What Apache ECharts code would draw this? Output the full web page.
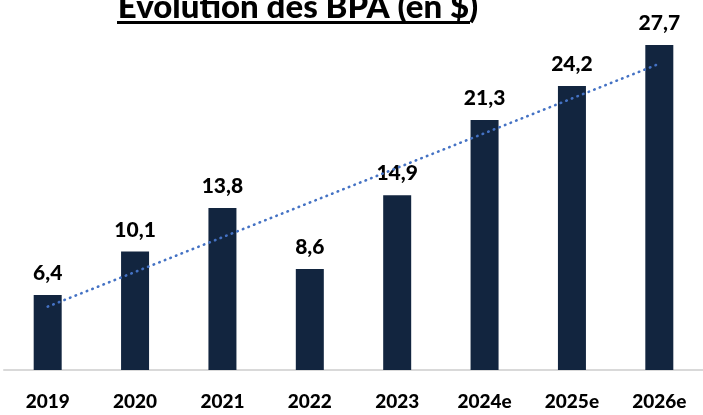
<!DOCTYPE html>
<html>
<head>
<meta charset="utf-8">
<script src="https://cdn.jsdelivr.net/npm/echarts@6/dist/echarts.min.js"></script>
<style>
  html, body { margin: 0; padding: 0; background: #fff; }
  #chart { width: 703px; height: 415px; }
</style>
</head>
<body>
<div id="chart"></div>
<script>
// données
const years = ['2019', '2020', '2021', '2022', '2023', '2024e', '2025e', '2026e']
const bpa = [6.4, 10.1, 13.8, 8.6, 14.9, 21.3, 24.2, 27.7]
// tendance linéaire : valeurs aux extrémités (1re et dernière année)
const trendEnds = [5.4, 26.1]

const chart = echarts.init(document.getElementById('chart'))
const font = 'Lato, "Open Sans", sans-serif'

const option = {
  animation: false,
  title: {
    text: 'Évolution des BPA (en $)',
    left: 293,
    textAlign: 'center',
    top: -14,
    textStyle: { fontFamily: font, fontWeight: 900, fontSize: 33, color: '#000' }
  },
  graphic: [
    // soulignement du titre
    { type: 'rect', shape: { x: 117, y: 21, width: 353, height: 3 }, style: { fill: '#000' } }
  ],
  grid: { left: 4, right: -3, top: 18, bottom: 45 },
  xAxis: {
    type: 'category',
    data: years,
    axisTick: { show: false },
    axisLine: { lineStyle: { color: '#d9d9d9', width: 2 } },
    axisLabel: { margin: 22, color: '#000', fontFamily: font, fontWeight: 900, fontSize: 19 }
  },
  yAxis: {
    type: 'value',
    min: 0,
    max: 30,
    show: false,
    splitLine: { show: false }
  },
  series: [
    {
      type: 'bar',
      data: bpa,
      barWidth: 28,
      itemStyle: { color: '#12253f' },
      label: {
        show: true,
        position: 'top',
        distance: 11,
        color: '#000',
        fontFamily: font,
        fontWeight: 900,
        fontSize: 21,
        formatter: p => String(p.value).replace('.', ',')
      }
    },
    {
      type: 'line',
      data: [[0, trendEnds[0]], [years.length - 1, trendEnds[1]]],
      symbol: 'none',
      lineStyle: { color: '#4472c4', width: 2.6, type: [0.5, 5.5], cap: 'round' },
      z: 5
    }
  ]
}

chart.setOption(option)
</script>
</body>
</html>
